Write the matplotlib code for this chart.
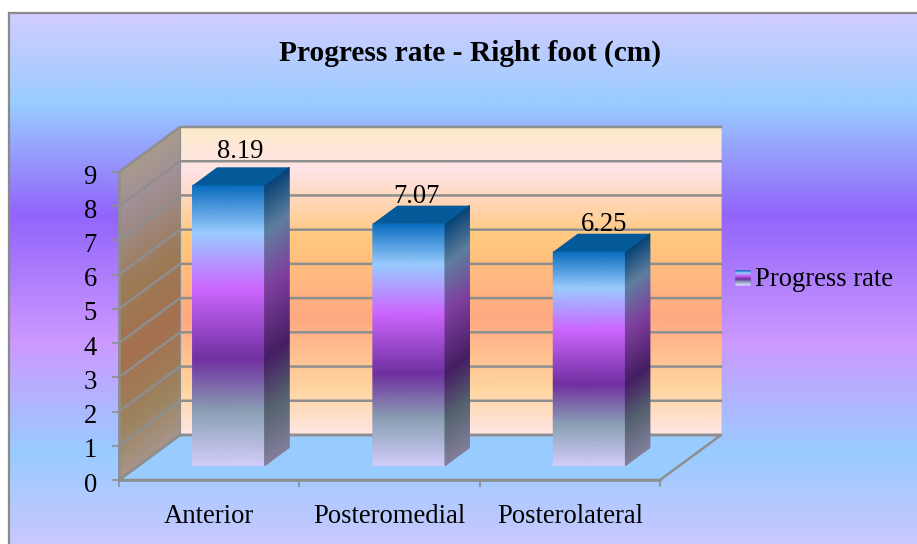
import numpy as np
import matplotlib
matplotlib.use("Agg")
import matplotlib.pyplot as plt
from matplotlib.colors import LinearSegmentedColormap
from matplotlib.patches import Polygon
from matplotlib.transforms import IdentityTransform, ScaledTranslation

categories = ["Anterior", "Posteromedial", "Posterolateral"]
progress_rate = [8.19, 7.07, 6.25]
y_ticks = list(range(0, 10))
title = "Progress rate - Right foot (cm)"
series_name = "Progress rate"

W, H = 917, 544
plt.rcParams["font.family"] = ["Liberation Serif", "DejaVu Serif"]
fig = plt.figure(figsize=(W / 100, H / 100), dpi=100, facecolor="white")

# Front plane of the pseudo-3D chart box, in pixel fractions of the figure
PLOT_L, PLOT_R, PLOT_B, PLOT_T = 119, 660, 480, 172
ax = fig.add_axes([PLOT_L / W, 1 - PLOT_B / H, (PLOT_R - PLOT_L) / W, (PLOT_B - PLOT_T) / H])
ax.set_xlim(0, 3)
ax.set_ylim(0, 9)
ax.patch.set_visible(False)
ax.set_autoscale_on(False)

DEPTH_X, DEPTH_Y = 61, 45   # full depth of the box, in pixels
BAR_NEAR, BAR_FAR = 0.32, 0.72   # depth span of each column
BAR_WIDTH = 0.40
GRID = "#8e8e8e"
FONT = 19.2
LINE = 1.8
ID = IdentityTransform()

# Nudges for the value labels, in pixels
label_dx = [1, -4, 4]
label_dy = [26, 19, 19]


def px(x, v, d=0.0):
    """Display position of category coordinate x, value v, at depth d."""
    p = ax.transData.transform((x, v))
    return np.array([p[0] + d * DEPTH_X, p[1] + d * DEPTH_Y])


def ramp(stops):
    return LinearSegmentedColormap.from_list("r", stops, N=512)


def face(top_left, top_right, bottom_left, bottom_right, stops, z, rows=160):
    """Fill a quadrilateral with a colour ramp running from its top edge to its bottom edge."""
    t = np.linspace(0, 1, rows)[:, None]
    left = np.outer(1 - t, top_left) + np.outer(t, bottom_left)
    right = np.outer(1 - t, top_right) + np.outer(t, bottom_right)
    xs = np.column_stack([left[:, 0], right[:, 0]])
    ys = np.column_stack([left[:, 1], right[:, 1]])
    c = np.column_stack([t, t])
    ax.pcolormesh(xs, ys, c, shading="gouraud", cmap=ramp(stops), vmin=0, vmax=1,
                  transform=ID, clip_on=False, zorder=z)


def shade(stops, k):
    return [(p, tuple(k * np.array(matplotlib.colors.to_rgb(c)))) for p, c in stops]


# Figure-wide chart background
BACK = [(0, "#d2ccff"), (0.17, "#99ccff"), (0.38, "#9264fb"), (0.62, "#cc99ff"),
        (0.83, "#99ccff"), (1, "#c8c8ff")]
bg = fig.add_axes([9 / W, 0, 1 - 9 / W, 1 - 13 / H], zorder=-5)
bg.imshow(np.linspace(0, 1, 600)[:, None], aspect="auto", cmap=ramp(BACK), extent=[0, 1, 0, 1])
bg.set_xticks([])
bg.set_yticks([])
for name in ("right", "bottom"):
    bg.spines[name].set_visible(False)
for name in ("left", "top"):
    bg.spines[name].set_color("#8b8b8b")
    bg.spines[name].set_linewidth(1.6)

# Back wall
WALL = [(0, "#fdebc8"), (0.14, "#ffe3e8"), (0.36, "#ffc87e"), (0.62, "#ffa982"),
        (0.85, "#ffd5a0"), (1, "#ffe6e6")]
face(px(0, 9, 1), px(3, 9, 1), px(0, 0, 1), px(3, 0, 1), WALL, 1)

# Side wall
SIDE = [(0, "#a89b8c"), (0.14, "#a08f96"), (0.40, "#9c7a55"), (0.62, "#a5704f"),
        (0.85, "#9c8560"), (1, "#a8948c")]
face(px(0, 9, 0), px(0, 9, 1), px(0, 0, 0), px(0, 0, 1), SIDE, 1)

# Floor
ax.add_patch(Polygon([px(0, 0, 0), px(3, 0, 0), px(3, 0, 1), px(0, 0, 1)], closed=True,
                     facecolor="#98ccff", edgecolor=GRID, linewidth=LINE,
                     transform=ID, clip_on=False, zorder=2))

# Gridlines across both walls
for v in y_ticks:
    pts = np.array([px(0, v, 0), px(0, v, 1), px(3, v, 1)])
    ax.plot(pts[:, 0], pts[:, 1], color=GRID, lw=LINE, transform=ID, clip_on=False,
            zorder=3, solid_joinstyle="miter")
corner = np.array([px(0, 0, 1), px(0, 9, 1)])
ax.plot(corner[:, 0], corner[:, 1], color=GRID, lw=0.8, transform=ID, clip_on=False, zorder=3)

# Columns
FRONT = [(0, "#0a6cbe"), (0.17, "#99ccff"), (0.37, "#cc66ff"), (0.62, "#7030a0"),
         (0.81, "#8aa0b4"), (1, "#d2ccfa")]
TOP_FACE = "#045a98"
for i, value in enumerate(progress_rate):
    x0 = i + 0.5 - BAR_WIDTH / 2
    x1 = i + 0.5 + BAR_WIDTH / 2
    face(px(x0, value, BAR_NEAR), px(x1, value, BAR_NEAR),
         px(x0, 0, BAR_NEAR), px(x1, 0, BAR_NEAR), FRONT, 5)
    face(px(x1, value, BAR_NEAR), px(x1, value, BAR_FAR),
         px(x1, 0, BAR_NEAR), px(x1, 0, BAR_FAR), shade(FRONT, 0.62), 5)
    ax.add_patch(Polygon([px(x0, value, BAR_NEAR), px(x1, value, BAR_NEAR),
                          px(x1, value, BAR_FAR), px(x0, value, BAR_FAR)], closed=True,
                         facecolor=TOP_FACE, edgecolor="none", transform=ID,
                         clip_on=False, zorder=5))
    lx, ly = px(i + 0.5, value, 0.5)
    ax.annotate(f"{value:.2f}", xy=(lx, ly), xycoords=ID,
                xytext=(label_dx[i], label_dy[i]), textcoords="offset pixels",
                ha="center", va="center", fontsize=FONT, color="black", zorder=7)

# Axes: left spine, bottom spine, ticks and their labels
for name in ("top", "right"):
    ax.spines[name].set_visible(False)
for name in ("left", "bottom"):
    ax.spines[name].set_color(GRID)
    ax.spines[name].set_linewidth(LINE)
    ax.spines[name].set_zorder(4)
ax.set_yticks(y_ticks)
ax.tick_params(axis="y", length=5, width=1.2, color=GRID, labelsize=FONT, pad=11)
shift = ScaledTranslation(0, -2 / 100, fig.dpi_scale_trans)
for label in ax.get_yticklabels():
    label.set_transform(label.get_transform() + shift)
ax.set_xticks(range(4))
ax.set_xticklabels([])
ax.tick_params(axis="x", which="major", length=5, width=1.2, color=GRID)
ax.set_xticks([i + 0.5 for i in range(3)], minor=True)
ax.set_xticklabels(categories, minor=True)
ax.tick_params(axis="x", which="minor", length=0, labelsize=FONT, pad=17)

# Title
fig.text(470 / W, 1 - 53 / H, title, ha="center", va="center", fontsize=21.2, fontweight="bold")

# Legend key and entry
key_l, key_r, key_t, key_b = 736, 750, 271, 285
corners = [np.array([key_l, H - key_t]), np.array([key_r, H - key_t]),
           np.array([key_l, H - key_b]), np.array([key_r, H - key_b])]
face(*corners, FRONT, 6, rows=40)
fig.text(755 / W, 1 - 280 / H, series_name, ha="left", va="center", fontsize=FONT)

fig.savefig("out.png", dpi=100, facecolor="white")
